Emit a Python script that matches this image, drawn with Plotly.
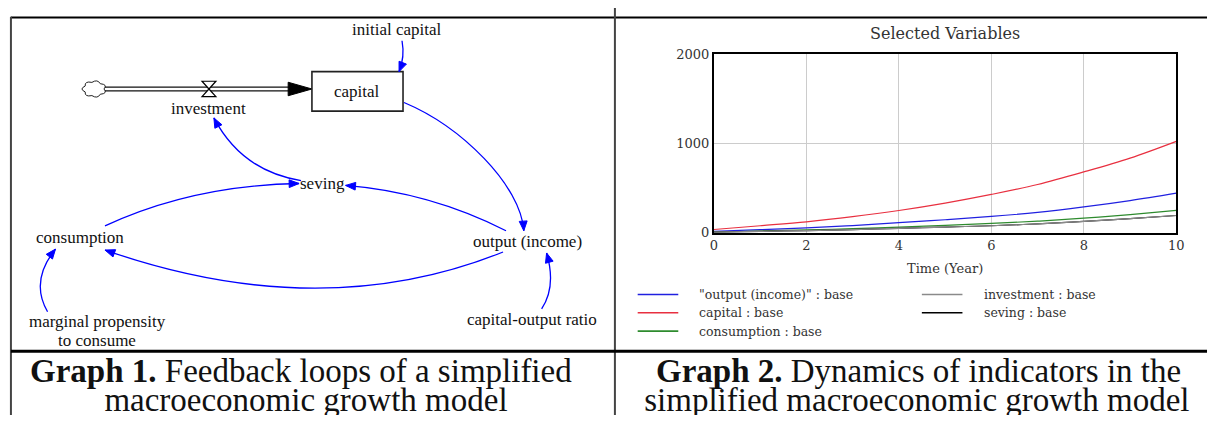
import math
import plotly.graph_objects as go

W, H = 1216, 423

# ---------------- data ----------------
years = [0, 1, 2, 3, 4, 5, 6, 7, 8, 9, 10]
output_income = [15, 34, 55, 80, 112, 145, 182, 228, 289, 360, 443]
capital = [36, 78, 122, 180, 249, 332, 429, 540, 681, 836, 1024]
consumption = [8, 19, 31, 45, 63, 82, 104, 129, 163, 203, 250]
investment = [7, 15, 24, 35, 49, 63, 78, 99, 126, 157, 193]
seving = [7, 15, 24, 35, 49, 63, 78, 99, 126, 157, 193]

series_names = ['"output (income)" : base', 'capital : base', 'consumption : base',
                'investment : base', 'seving : base']
series_colors = ['#2020e0', '#e83040', '#2e8b2e', '#8a8a8a', '#000000']
x_ticks = [0, 2, 4, 6, 8, 10]
y_ticks = [0, 1000, 2000]
chart_title = 'Selected Variables'
x_title = 'Time (Year)'
caption1 = ['<b>Graph 1.</b> Feedback loops of a simplified', 'macroeconomic growth model']
caption2 = ['<b>Graph 2.</b> Dynamics of indicators in the', 'simplified macroeconomic growth model']


def X(px):
    return px / W


def Y(py):
    return 1 - py / H


def P(x, y):
    return f"{X(x):.5f},{Y(y):.5f}"


shapes = []
annotations = []

SERIF = 'Liberation Serif, Times New Roman, serif'
CHART_FONT = 'DejaVu Serif, serif'
BLUE = '#0000ff'


def line(x0, y0, x1, y1, color='black', width=1):
    shapes.append(dict(type='line', xref='paper', yref='paper', x0=X(x0), y0=Y(y0),
                       x1=X(x1), y1=Y(y1), line=dict(color=color, width=width), layer='above'))


def text(s, x, y, size=17, family=SERIF, color='#111111', xanchor='center', yanchor='middle'):
    annotations.append(dict(text=s, x=X(x), y=Y(y), xref='paper', yref='paper',
                            showarrow=False, xanchor=xanchor, yanchor=yanchor,
                            font=dict(family=family, size=size, color=color)))


def arrowhead(tx, ty, cx, cy, color=BLUE, L=10, w=8):
    dx, dy = tx - cx, ty - cy
    n = math.hypot(dx, dy)
    dx, dy = dx / n, dy / n
    bx, by = tx - L * dx, ty - L * dy
    nx, ny = -dy, dx
    p1 = (bx + nx * w / 2, by + ny * w / 2)
    p2 = (bx - nx * w / 2, by - ny * w / 2)
    path = f"M {P(tx, ty)} L {P(*p1)} L {P(*p2)} Z"
    shapes.append(dict(type='path', xref='paper', yref='paper', path=path,
                       fillcolor=color, line=dict(color=color, width=1), layer='above'))


def qarrow(x0, y0, cx, cy, x1, y1):
    path = f"M {P(x0, y0)} Q {P(cx, cy)} {P(x1, y1)}"
    shapes.append(dict(type='path', xref='paper', yref='paper', path=path,
                       line=dict(color=BLUE, width=1.3), layer='above'))
    arrowhead(x1, y1, cx, cy)


def carrow(x0, y0, c1x, c1y, c2x, c2y, x1, y1):
    path = f"M {P(x0, y0)} C {P(c1x, c1y)} {P(c2x, c2y)} {P(x1, y1)}"
    shapes.append(dict(type='path', xref='paper', yref='paper', path=path,
                       line=dict(color=BLUE, width=1.3), layer='above'))
    arrowhead(x1, y1, c2x, c2y)


# ---------------- table borders ----------------
line(7, 11, 1215, 11, 'black', 2)
line(7, 10, 7, 423, '#444444', 2)
line(617, 1, 617, 423, '#444444', 2)
line(7, 357, 1215, 357, 'black', 3)

# ---------------- stock & flow diagram ----------------
# cloud
cx0, cy0, rx, ry = 91, 85, 10, 7
nb = 7
pts = [(cx0 + rx * math.cos(2 * math.pi * k / nb), cy0 + ry * math.sin(2 * math.pi * k / nb)) for k in range(nb)]
cp = []
for k in range(nb):
    a = 2 * math.pi * (k + 0.5) / nb
    cp.append((cx0 + 1.55 * rx * math.cos(a), cy0 + 1.55 * ry * math.sin(a)))
path = f"M {P(*pts[0])}"
for k in range(nb):
    path += f" Q {P(*cp[k])} {P(*pts[(k + 1) % nb])}"
path += " Z"
shapes.append(dict(type='path', xref='paper', yref='paper', path=path, fillcolor='white',
                   line=dict(color='#222222', width=1), layer='above'))

# pipe (double line)
line(102, 83, 290, 83, '#111111', 1.2)
line(102, 87, 290, 87, '#111111', 1.2)
# flow arrowhead into stock
shapes.append(dict(type='path', xref='paper', yref='paper',
                   path=f"M {P(311, 85)} L {P(287, 78)} L {P(287, 92)} Z",
                   fillcolor='black', line=dict(color='black', width=1), layer='above'))
# valve (hourglass)
shapes.append(dict(type='path', xref='paper', yref='paper',
                   path=f"M {P(200, 77)} L {P(214, 77)} L {P(207, 85)} Z M {P(207, 85)} L {P(214, 93)} L {P(200, 93)} Z",
                   fillcolor='white', line=dict(color='black', width=1.2), layer='above'))
# stock box
shapes.append(dict(type='rect', xref='paper', yref='paper', x0=X(311), y0=Y(108), x1=X(403), y1=Y(67),
                   fillcolor='white', line=dict(color='#222222', width=1.6), layer='above'))

# causal links
qarrow(402, 35, 405, 52, 399, 67)                      # initial capital -> capital
carrow(404, 99, 462, 124, 522, 185, 525, 232)          # capital -> output
qarrow(507, 232, 430, 192, 345, 185)                   # output -> seving
qarrow(102, 227, 190, 185, 298, 183)                   # consumption -> seving
qarrow(300, 180, 240, 170, 212, 115)                   # seving -> investment
qarrow(504, 254, 320, 330, 102, 252)                   # output -> consumption
qarrow(44, 316, 26, 284, 52, 251)                      # mpc -> consumption
qarrow(543, 313, 558, 290, 548, 255)                   # capital-output ratio -> output

text('initial capital', 396, 23)
text('capital', 357, 88)
text('investment', 207, 105)
text('seving', 322, 183)
text('consumption', 77, 239)
text('output (income)', 529, 243)
text('marginal propensity', 94, 326)
text('to consume', 94, 346)
text('capital-output ratio', 533, 324)

# ---------------- line chart ----------------
fig = go.Figure()
order = [(capital, 1), (output_income, 0), (consumption, 2), (seving, 4), (investment, 3)]
for vals, i in order:
    fig.add_trace(go.Scatter(x=years, y=vals, mode='lines', name=series_names[i],
                             line=dict(color=series_colors[i], width=1.2, shape='spline'),
                             xaxis='x', yaxis='y', showlegend=False))

text(chart_title, 950, 27, size=16, family=CHART_FONT, color='#333333')
text(x_title, 950, 271, size=13, family=CHART_FONT, color='#333333')

# manual legend (two columns, column-major like the reference)
leg_pos = [(640, 700, 298), (640, 700, 317), (640, 700, 336), (927, 988, 298), (927, 988, 317)]
for i, (lx, tx, ly) in enumerate(leg_pos):
    line(lx, ly, lx + 41, ly, series_colors[i], 1.6)
    text(series_names[i], tx, ly, size=12.5, family=CHART_FONT, color='#333333', xanchor='left')

# ---------------- captions ----------------
text(caption1[0], 300, 377, size=33)
text(caption2[0], 924, 377, size=33)
# second caption lines: clipped at the page bottom like in the reference
fig.add_trace(go.Scatter(x=[305, 922], y=[410, 410], mode='text',
                         text=[caption1[1], caption2[1]], textposition='middle center',
                         textfont=dict(family=SERIF, size=33, color='#111111'),
                         cliponaxis=True, xaxis='x2', yaxis='y2', hoverinfo='skip',
                         showlegend=False))

fig.update_layout(
    width=W, height=H, margin=dict(l=0, r=0, t=0, b=0),
    paper_bgcolor='white', plot_bgcolor='white', showlegend=False,
    shapes=shapes, annotations=annotations,
    xaxis=dict(domain=[X(717), X(1184)], range=[0, 10], tickvals=x_ticks,
               showgrid=True, gridcolor='#cccccc', gridwidth=1, zeroline=False,
               showline=True, mirror=True, linecolor='black', linewidth=2, ticks='',
               tickfont=dict(family=CHART_FONT, size=13, color='#333333'), fixedrange=True),
    yaxis=dict(domain=[Y(234), Y(49)], range=[0, 2000], tickvals=y_ticks,
               showgrid=True, gridcolor='#cccccc', gridwidth=1, zeroline=False,
               showline=True, mirror=True, linecolor='black', linewidth=2, ticks='',
               tickfont=dict(family=CHART_FONT, size=13, color='#333333'), fixedrange=True),
    xaxis2=dict(domain=[0, 1], range=[0, W], visible=False, anchor='y2', fixedrange=True),
    yaxis2=dict(domain=[0, Y(359)], range=[H, 359], visible=False, anchor='x2', fixedrange=True),
)

post = ("var d=document.getElementById('{plot_id}');"
        "d.style.position='fixed';d.style.left='0px';d.style.top='0px';"
        "document.body.style.margin='0';document.body.style.overflow='hidden';"
        "document.documentElement.style.overflow='hidden';")
fig.write_html('out.html', config={'displayModeBar': False}, post_script=post)
